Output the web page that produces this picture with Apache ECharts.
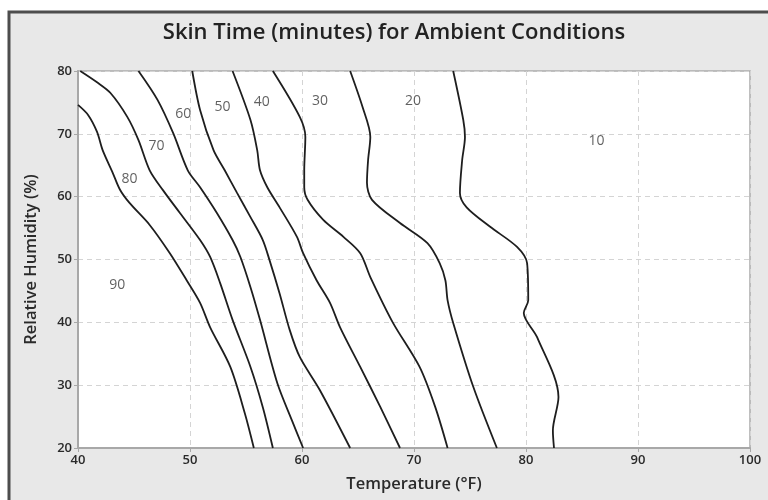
<!DOCTYPE html>
<html>
<head>
<meta charset="utf-8">
<script src="https://cdn.jsdelivr.net/npm/echarts@6/dist/echarts.min.js"></script>
<style>
html,body{margin:0;padding:0;background:#ffffff;}
#chart{width:768px;height:500px;}
</style>
</head>
<body>
<div id="chart"></div>
<script>
// Axis ticks
const tempTicks = [40, 50, 60, 70, 80, 90, 100];
const humTicks = [20, 30, 40, 50, 60, 70, 80];

// Contour boundaries [temperature °F, relative humidity %]
const c90_80 = [[40,74.6],[40.9,73.0],[41.7,70.3],[42.2,67.4],[43.1,63.8],[43.75,61.1],[44.6,59.0],[46.4,55.5],[48.2,51.0],[49.7,46.7],[50.9,43.1],[51.8,39.2],[53.6,32.9],[54.9,25.5],[55.7,20]];
const c80_70 = [[40.2,80],[41.7,78.2],[42.9,76.5],[44.4,72.7],[45.4,69.0],[46.4,64.2],[47.6,61.0],[49.1,57.4],[50.9,53.1],[51.8,50.4],[52.7,46.2],[53.8,40.4],[55.4,32.9],[56.5,26.5],[57.4,20]];
const c70_60 = [[45.4,80],[47.1,75.4],[48.5,70.1],[49.8,64.2],[50.9,61.5],[52.4,57.4],[53.8,53.1],[54.5,50.4],[55.4,45.6],[56.25,40.4],[57.8,30.3],[59.1,24.4],[60.1,20]];
const c60_50 = [[50.2,80],[50.9,73.8],[52.1,67.4],[53.1,64.2],[54.2,60.6],[55.4,56.75],[56.5,53.1],[57.1,49.9],[58.0,44.6],[58.9,38.8],[59.8,34.5],[61.6,29.2],[64.3,20]];
const c50_40 = [[53.8,80],[55.4,72.2],[56.0,67.4],[56.25,64.2],[56.9,61.5],[58.0,58.3],[59.55,53.6],[60.1,51.0],[61.3,46.7],[62.5,43.1],[63.4,39.2],[65.2,32.9],[67.0,26.5],[68.75,20]];
const c40_30 = [[57.4,80],[59.8,72.7],[60.3,69.5],[60.2,64.2],[60.2,61.5],[60.5,59.5],[61.9,56.3],[63.7,53.6],[65.2,51.0],[66.1,47.2],[68.1,40.0],[70.5,32.9],[71.9,26.5],[73.0,20]];
const c30_20 = [[64.3,80],[65.4,74.3],[66.1,69.5],[65.9,65.8],[65.8,62.2],[66.25,59.5],[68.75,55.8],[71.2,52.6],[72.3,49.4],[72.8,46.7],[73.0,43.5],[73.5,39.9],[75.3,29.7],[77.4,20]];
const c20_10 = [[73.5,80],[74.4,72.2],[74.55,69.5],[74.3,65.8],[74.1,60.6],[74.7,58.3],[76.8,55.2],[79.2,52.0],[80.1,49.4],[80.2,43.5],[79.8,41.5],[81.0,37.6],[82.9,28.1],[82.4,22.8],[82.5,20]];

// Region labels
const zoneNames = ['90','80','70','60','50','40','30','20','10'];
const zonePos = [[43.5,45.9],[44.6,62.8],[47.0,68.1],[49.4,73.2],[52.9,74.3],[56.4,75.1],[61.6,75.2],[69.9,75.2],[86.3,68.9]];

const curves = [c90_80, c80_70, c70_60, c60_50, c50_40, c40_30, c30_20, c20_10];

const chart = echarts.init(document.getElementById('chart'), null, {renderer:'canvas'});
const FONT = '"Open Sans", "Noto Sans", sans-serif';

const series = curves.map(function (d) {
  return {
    type: 'line',
    data: d,
    smooth: 0.3,
    symbol: 'none',
    lineStyle: {color: '#1e1e1e', width: 1.8},
    silent: true,
    z: 3
  };
});
series.push({
  type: 'scatter',
  symbolSize: 1,
  itemStyle: {color: 'rgba(0,0,0,0)'},
  data: zonePos.map(function (p, i) { return {name: zoneNames[i], value: p}; }),
  label: {
    show: true, position: 'inside', formatter: '{b}',
    color: '#3a3a3a', fontSize: 14, fontFamily: FONT
  },
  silent: true,
  z: 4
});

chart.setOption({
  animation: false,
  backgroundColor: '#ffffff',
  graphic: [
    {type: 'rect', shape: {x: 9, y: 12, width: 800, height: 520},
     style: {fill: '#e8e8e8', stroke: '#4d4d4d', lineWidth: 3}, z: -10},
    {type: 'text', x: 394, y: 33, z: 10,
     style: {text: 'Skin Time (minutes) for Ambient Conditions', fill: '#222',
       font: '600 22px ' + FONT, textAlign: 'center', textVerticalAlign: 'middle'}}
  ],
  grid: {left: 78, right: 18, top: 71, bottom: 52, show: true,
         backgroundColor: '#ffffff', borderColor: '#ababab', borderWidth: 1.5},
  xAxis: {
    type: 'value', min: tempTicks[0], max: tempTicks[tempTicks.length-1], interval: 10,
    name: 'Temperature (°F)', nameLocation: 'middle', nameGap: 28,
    nameTextStyle: {color: '#2a2a2a', fontSize: 16.5, fontWeight: 600, fontFamily: FONT},
    axisLine: {show: true, lineStyle: {color: '#a8a8a8', width: 2}},
    axisTick: {show: true, length: 4, lineStyle: {color: '#a8a8a8'}},
    axisLabel: {color: '#2a2a2a', fontSize: 13, fontWeight: 600, fontFamily: FONT, margin: 6,
      formatter: function (v) { return tempTicks.indexOf(v) >= 0 ? String(v) : ''; }},
    splitLine: {show: true, lineStyle: {color: '#d4d4d4', type: [5, 4], width: 1}}
  },
  yAxis: {
    type: 'value', min: humTicks[0], max: humTicks[humTicks.length-1], interval: 10,
    name: 'Relative Humidity (%)', nameLocation: 'middle', nameGap: 38, nameRotate: 90,
    nameTextStyle: {color: '#2a2a2a', fontSize: 16.5, fontWeight: 600, fontFamily: FONT},
    axisLine: {show: true, lineStyle: {color: '#a8a8a8', width: 2}},
    axisTick: {show: true, length: 4, lineStyle: {color: '#a8a8a8'}},
    axisLabel: {color: '#2a2a2a', fontSize: 13, fontWeight: 600, fontFamily: FONT, margin: 6,
      formatter: function (v) { return humTicks.indexOf(v) >= 0 ? String(v) : ''; }},
    splitLine: {show: true, lineStyle: {color: '#d4d4d4', type: [5, 4], width: 1}}
  },
  series: series
});
</script>
</body>
</html>
